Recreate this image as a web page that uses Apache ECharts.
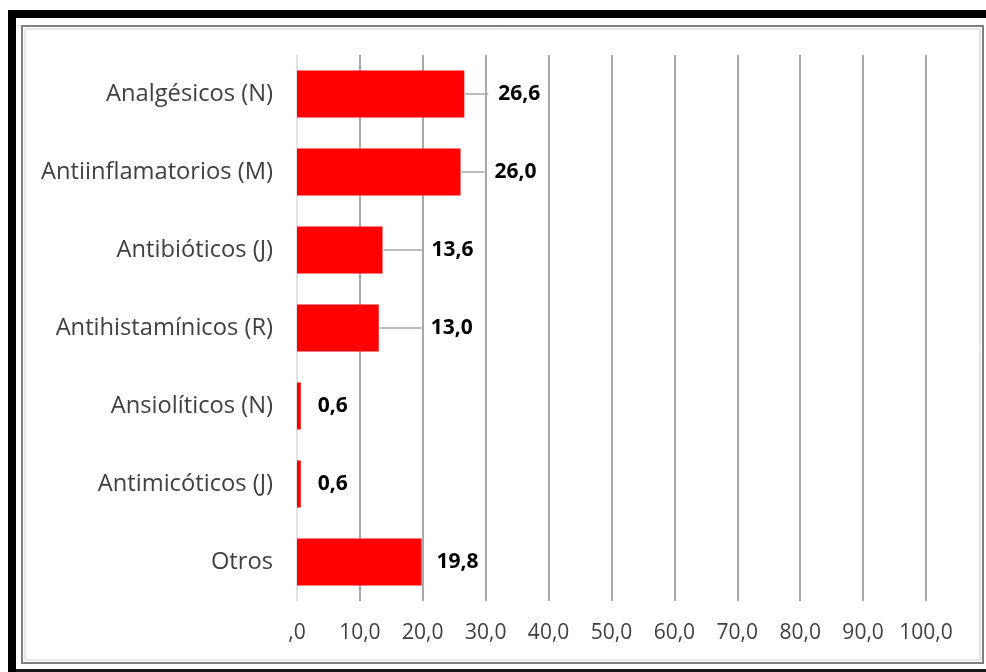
<!DOCTYPE html>
<html>
<head>
<meta charset="utf-8">
<script src="https://cdn.jsdelivr.net/npm/echarts@6/dist/echarts.min.js"></script>
<style>
  html, body { margin: 0; padding: 0; background: #ffffff; }
  #chart { width: 986px; height: 672px; }
</style>
</head>
<body>
<div id="chart"></div>
<script>
// Grupos terapéuticos (código ATC) y porcentaje de consumo
const categories = [
  'Analgésicos (N)',
  'Antiinflamatorios (M)',
  'Antibióticos (J)',
  'Antihistamínicos (R)',
  'Ansiolíticos (N)',
  'Antimicóticos (J)',
  'Otros'
];
const values = [26.6, 26.0, 13.6, 13.0, 0.6, 0.6, 19.8];
// distance from bar end to the value label (px) and leader-line length (px, 0 = none)
const labelGap = [34, 34, 49, 52, 17, 17, 15];
const leaderLen = [24, 24, 40, 43, 0, 0, 0];
const xMin = 0, xMax = 100, xStep = 10;

const fmt = v => (v === 0 ? ',0' : v.toFixed(1).replace('.', ','));

const seriesData = values.map((v, i) => ({
  value: v,
  label: { distance: labelGap[i] }
}));

// leader lines from the end of each bar towards its value label
const leaderData = values.map((v, i) => [v, i, leaderLen[i]]);

const chart = echarts.init(document.getElementById('chart'));
chart.setOption({
  backgroundColor: '#ffffff',
  animation: false,
  grid: { left: 297, right: 60, top: 55, bottom: 71, containLabel: false },
  xAxis: {
    type: 'value',
    min: xMin, max: xMax, interval: xStep,
    axisLine: { show: false },
    axisTick: { show: false },
    axisLabel: {
      formatter: fmt,
      color: '#404040',
      fontFamily: 'Open Sans',
      fontSize: 21,
      margin: 22
    },
    splitLine: {
      show: true,
      showMinLine: false,
      lineStyle: { color: '#8c8c8c', width: 1.5 }
    }
  },
  yAxis: {
    type: 'category',
    data: categories,
    inverse: true,
    axisLine: { show: true, lineStyle: { color: '#d9d9d9', width: 1.5 } },
    axisTick: { show: false },
    axisLabel: {
      color: '#404040',
      fontFamily: 'Open Sans',
      fontSize: 23.7,
      margin: 24
    }
  },
  series: [{
    type: 'bar',
    data: seriesData,
    barWidth: 47,
    itemStyle: { color: '#ff0000' },
    label: {
      show: true,
      position: 'right',
      formatter: p => fmt(p.value),
      color: '#000000',
      fontFamily: 'Open Sans',
      fontWeight: 'bold',
      fontSize: 21
    },
    z: 3
  }, {
    type: 'custom',
    data: leaderData,
    encode: { x: 0, y: 1 },
    silent: true,
    z: 2,
    renderItem: (params, api) => {
      const len = api.value(2);
      if (!len) return null;
      const p = api.coord([api.value(0), api.value(1)]);
      return {
        type: 'line',
        shape: { x1: p[0] + 1, y1: p[1], x2: p[0] + len, y2: p[1] },
        style: { stroke: '#a6a6a6', lineWidth: 1.5 }
      };
    }
  }],
  graphic: [
    // heavy black edges of the framed figure
    { type: 'rect', silent: true, shape: { x: 8, y: 10, width: 978, height: 8 }, style: { fill: '#000000' } },
    { type: 'rect', silent: true, shape: { x: 8, y: 10, width: 8, height: 662 }, style: { fill: '#000000' } },
    { type: 'rect', silent: true, shape: { x: 16, y: 669, width: 970, height: 3 }, style: { fill: '#1a1a1a' } },
    // chart area border
    { type: 'rect', silent: true, shape: { x: 22, y: 26, width: 961, height: 637 }, style: { fill: 'none', stroke: '#7f7f7f', lineWidth: 2 } },
    { type: 'rect', silent: true, shape: { x: 25, y: 29, width: 955, height: 631 }, style: { fill: 'none', stroke: '#d0d0d0', lineWidth: 1 } }
  ]
});
</script>
</body>
</html>
